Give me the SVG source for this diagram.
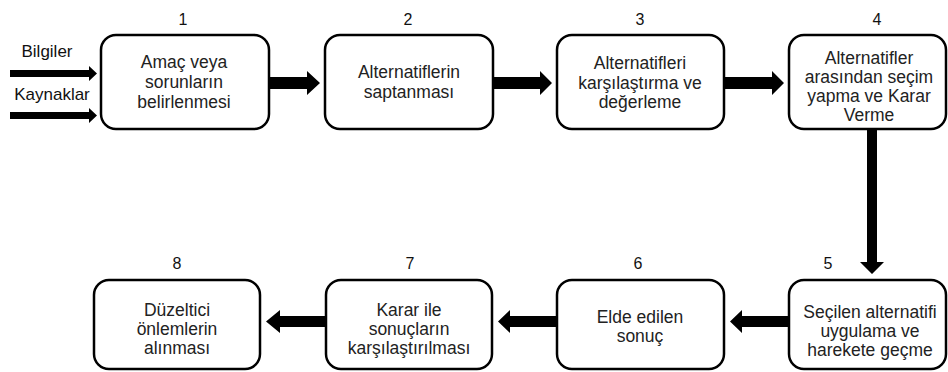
<svg xmlns="http://www.w3.org/2000/svg" width="948" height="372" viewBox="0 0 948 372">
  <style>
    .box { fill: #ffffff; stroke: #000000; stroke-width: 2.5; }
    .lbl { font-family: "Liberation Sans", Arial, sans-serif; font-size: 17.5px; fill: #222222; text-anchor: middle; }
    .num { font-family: "Liberation Sans", Arial, sans-serif; font-size: 16px; fill: #111111; text-anchor: middle; }
    .side { font-family: "Liberation Sans", Arial, sans-serif; font-size: 17px; fill: #111111; text-anchor: middle; }
    .arrow { fill: #000000; stroke: none; }
  </style>
  <rect width="948" height="372" fill="#ffffff"/>

  <!-- input labels -->
  <text class="side" x="47" y="57">Bilgiler</text>
  <text class="side" x="52" y="100">Kaynaklar</text>

  <!-- step 1 -->
  <g id="node1">
    <rect class="box" x="101" y="35" width="168" height="94" rx="15"/>
    <text class="num" x="183" y="25">1</text>
    <text class="lbl" x="184" y="68">Amaç veya</text>
    <text class="lbl" x="184" y="88">sorunların</text>
    <text class="lbl" x="184" y="108">belirlenmesi</text>
  </g>

  <!-- step 2 -->
  <g id="node2">
    <rect class="box" x="325" y="35" width="168" height="94" rx="15"/>
    <text class="num" x="408" y="25">2</text>
    <text class="lbl" x="409" y="78">Alternatiflerin</text>
    <text class="lbl" x="409" y="98">saptanması</text>
  </g>

  <!-- step 3 -->
  <g id="node3">
    <rect class="box" x="557" y="35" width="167" height="94" rx="15"/>
    <text class="num" x="640" y="25">3</text>
    <text class="lbl" x="640" y="69">Alternatifleri</text>
    <text class="lbl" x="640" y="89">karşılaştırma ve</text>
    <text class="lbl" x="640" y="108">değerleme</text>
  </g>

  <!-- step 4 -->
  <g id="node4">
    <rect class="box" x="789" y="35" width="157" height="94" rx="15"/>
    <text class="num" x="877" y="25">4</text>
    <text class="lbl" x="869" y="64">Alternatifler</text>
    <text class="lbl" x="869" y="83">arasından seçim</text>
    <text class="lbl" x="869" y="102">yapma ve Karar</text>
    <text class="lbl" x="869" y="121">Verme</text>
  </g>

  <!-- step 5 -->
  <g id="node5">
    <rect class="box" x="789" y="280" width="157" height="89" rx="15"/>
    <text class="num" x="828" y="269">5</text>
    <text class="lbl" x="870" y="318">Seçilen alternatifi</text>
    <text class="lbl" x="870" y="337">uygulama ve</text>
    <text class="lbl" x="870" y="356">harekete geçme</text>
  </g>

  <!-- step 6 -->
  <g id="node6">
    <rect class="box" x="557" y="280" width="167" height="89" rx="15"/>
    <text class="num" x="638" y="269">6</text>
    <text class="lbl" x="640" y="323">Elde edilen</text>
    <text class="lbl" x="640" y="342">sonuç</text>
  </g>

  <!-- step 7 -->
  <g id="node7">
    <rect class="box" x="326" y="280" width="166" height="89" rx="15"/>
    <text class="num" x="410" y="269">7</text>
    <text class="lbl" x="409" y="316">Karar ile</text>
    <text class="lbl" x="409" y="335">sonuçların</text>
    <text class="lbl" x="409" y="354">karşılaştırılması</text>
  </g>

  <!-- step 8 -->
  <g id="node8">
    <rect class="box" x="94" y="280" width="166" height="89" rx="15"/>
    <text class="num" x="177" y="269">8</text>
    <text class="lbl" x="177" y="316">Düzeltici</text>
    <text class="lbl" x="177" y="335">önlemlerin</text>
    <text class="lbl" x="177" y="354">alınması</text>
  </g>

  <!-- connectors -->
  <g id="connectors">
    <!-- inputs into step 1 -->
    <polygon class="arrow" points="10,70 89,70 89,66 97,73.5 89,81 89,77 10,77"/>
    <polygon class="arrow" points="10,112 89,112 89,108 97,115.5 89,123 89,119 10,119"/>
    <!-- 1 -> 2 -->
    <polygon class="arrow" points="269,77 307,77 307,71 320,83 307,95 307,89 269,89"/>
    <!-- 2 -> 3 -->
    <polygon class="arrow" points="493,77 540,77 540,71 552,83 540,95 540,89 493,89"/>
    <!-- 3 -> 4 -->
    <polygon class="arrow" points="724,77 772,77 772,71 784,83 772,95 772,89 724,89"/>
    <!-- 4 -> 5 -->
    <polygon class="arrow" points="867,130 877,130 877,262 884,262 872,274 860,262 867,262"/>
    <!-- 5 -> 6 -->
    <polygon class="arrow" points="789,316 742,316 742,310 730,321.5 742,333 742,327 789,327"/>
    <!-- 6 -> 7 -->
    <polygon class="arrow" points="557,316 510,316 510,310 498,321.5 510,333 510,327 557,327"/>
    <!-- 7 -> 8 -->
    <polygon class="arrow" points="326,316 280,316 280,310 266,321.5 280,333 280,327 326,327"/>
  </g>
</svg>
